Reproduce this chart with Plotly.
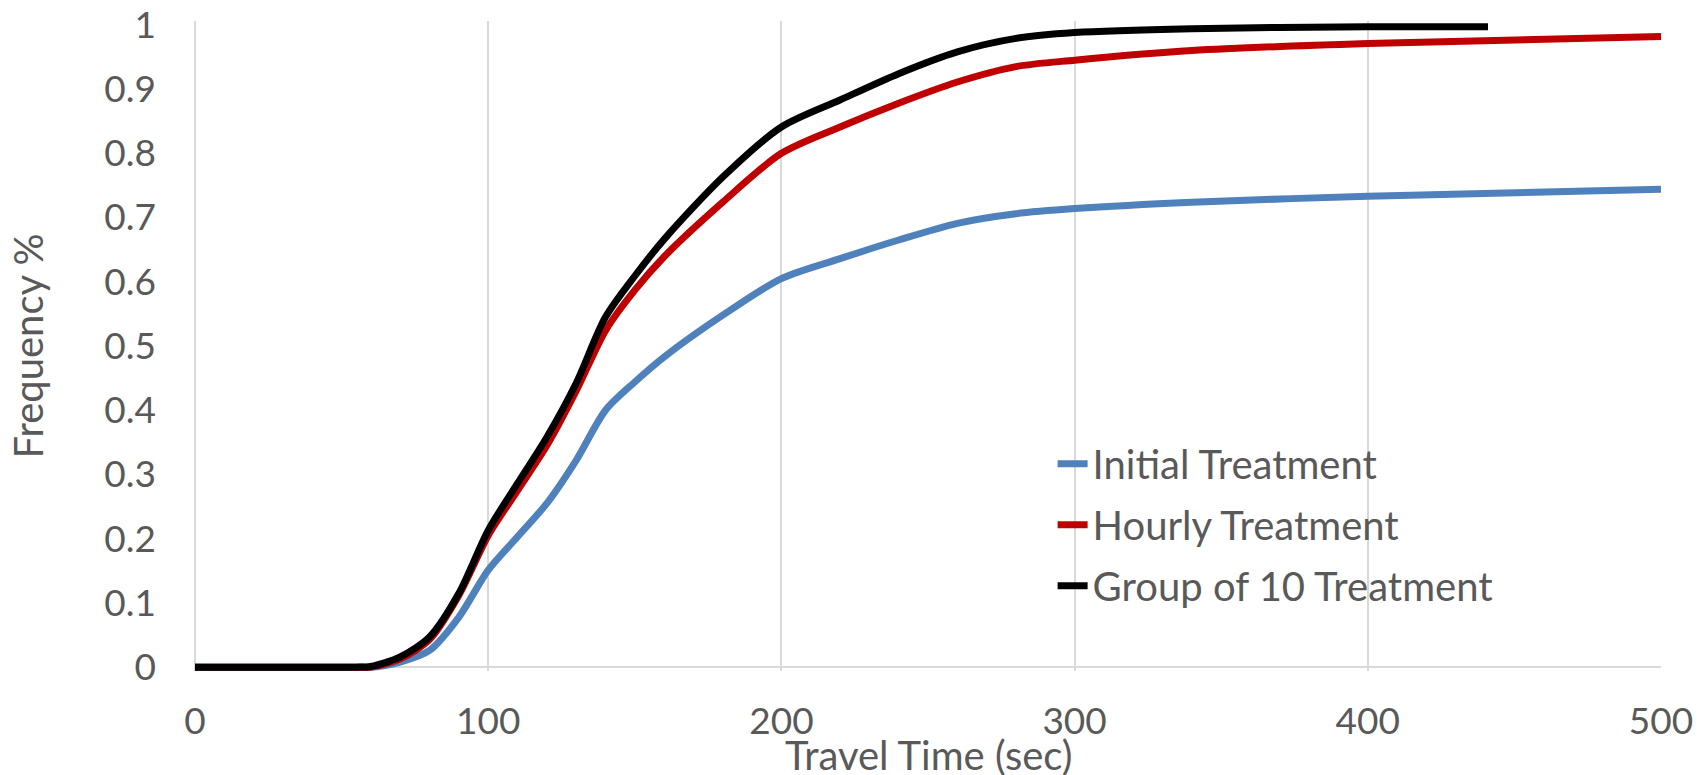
import plotly.graph_objects as go

# ---- data ----
time_sec = [0, 20, 40, 55, 60, 70, 80, 90, 100, 110, 120, 130, 140, 150, 160,
            180, 200, 220, 240, 260, 280, 300, 340, 400, 500]
initial = [0, 0, 0, 0, 0, 0.008, 0.026, 0.078, 0.151, 0.203, 0.255, 0.322, 0.400,
           0.444, 0.483, 0.548, 0.605, 0.636, 0.665, 0.691, 0.706, 0.714, 0.724,
           0.733, 0.744]
hourly = [0, 0, 0, 0, 0, 0.013, 0.043, 0.112, 0.205, 0.275, 0.345, 0.430, 0.524,
          0.587, 0.639, 0.724, 0.800, 0.841, 0.878, 0.911, 0.935, 0.945, 0.960,
          0.971, 0.982]
time_sec_group = [0, 20, 40, 55, 60, 70, 80, 90, 100, 110, 120, 130, 140, 150, 160,
                  180, 200, 220, 240, 260, 280, 300, 340, 400, 441]
group10 = [0, 0, 0, 0, 0.001, 0.016, 0.047, 0.115, 0.213, 0.286, 0.358, 0.442, 0.545,
           0.609, 0.666, 0.763, 0.841, 0.883, 0.924, 0.958, 0.979, 0.988, 0.994,
           0.997, 0.997]

series = [
    ("Initial Treatment", time_sec, initial, "#4F81BD"),
    ("Hourly Treatment", time_sec, hourly, "#C00000"),
    ("Group of 10 Treatment", time_sec_group, group10, "#000000"),
]

x_ticks = [0, 100, 200, 300, 400, 500]
y_ticks = [0, 0.1, 0.2, 0.3, 0.4, 0.5, 0.6, 0.7, 0.8, 0.9, 1]
y_tick_text = ["0", "0.1", "0.2", "0.3", "0.4", "0.5", "0.6", "0.7", "0.8", "0.9", "1"]
x_title = "Travel Time (sec)"
y_title = "Frequency %"

FONT = "Lato, Calibri, 'Open Sans', sans-serif"
TXT = "#595959"
GRID = "#D9D9D9"

fig = go.Figure()
for i, (name, xs, ys, col) in enumerate(series):
    fig.add_trace(go.Scatter(
        x=xs, y=ys, mode="lines", name=name, legendgroup=str(i),
        line=dict(color=col, width=7, shape="spline", smoothing=0.8),
    ))

fig.update_layout(
    width=1706, height=775,
    margin=dict(l=195, r=45, t=21, b=104, pad=0, autoexpand=False),
    paper_bgcolor="white", plot_bgcolor="white",
    font=dict(family=FONT, size=37, color=TXT),
    showlegend=True,
    legend=dict(
        x=0.585, y=0.369, xanchor="left", yanchor="top",
        bgcolor="rgba(0,0,0,0)", borderwidth=0,
        font=dict(family=FONT, size=40, color=TXT),
        tracegroupgap=6, itemwidth=30,
    ),
    annotations=[dict(
        text=x_title, xref="paper", yref="paper", x=0.5, y=-0.13,
        xanchor="center", yanchor="middle", showarrow=False,
        font=dict(family=FONT, size=40, color=TXT),
    )],
)
fig.update_xaxes(
    range=[0, 500], tickvals=x_ticks, ticktext=[str(v) for v in x_ticks],
    showgrid=True, gridcolor=GRID, gridwidth=2,
    zeroline=True, zerolinecolor=GRID, zerolinewidth=2,
    showline=False, ticks="", ticklabelstandoff=25, automargin=False,
    tickfont=dict(family=FONT, size=37, color=TXT),
)
fig.update_yaxes(
    range=[-0.006, 1.006], tickvals=y_ticks, ticktext=y_tick_text,
    showgrid=False,
    zeroline=True, zerolinecolor=GRID, zerolinewidth=2,
    showline=False, ticks="", ticklabelstandoff=38, automargin=False,
    tickfont=dict(family=FONT, size=37, color=TXT),
    title=dict(text=y_title, standoff=48,
               font=dict(family=FONT, size=40, color=TXT)),
)

fig.write_html("out.html")
